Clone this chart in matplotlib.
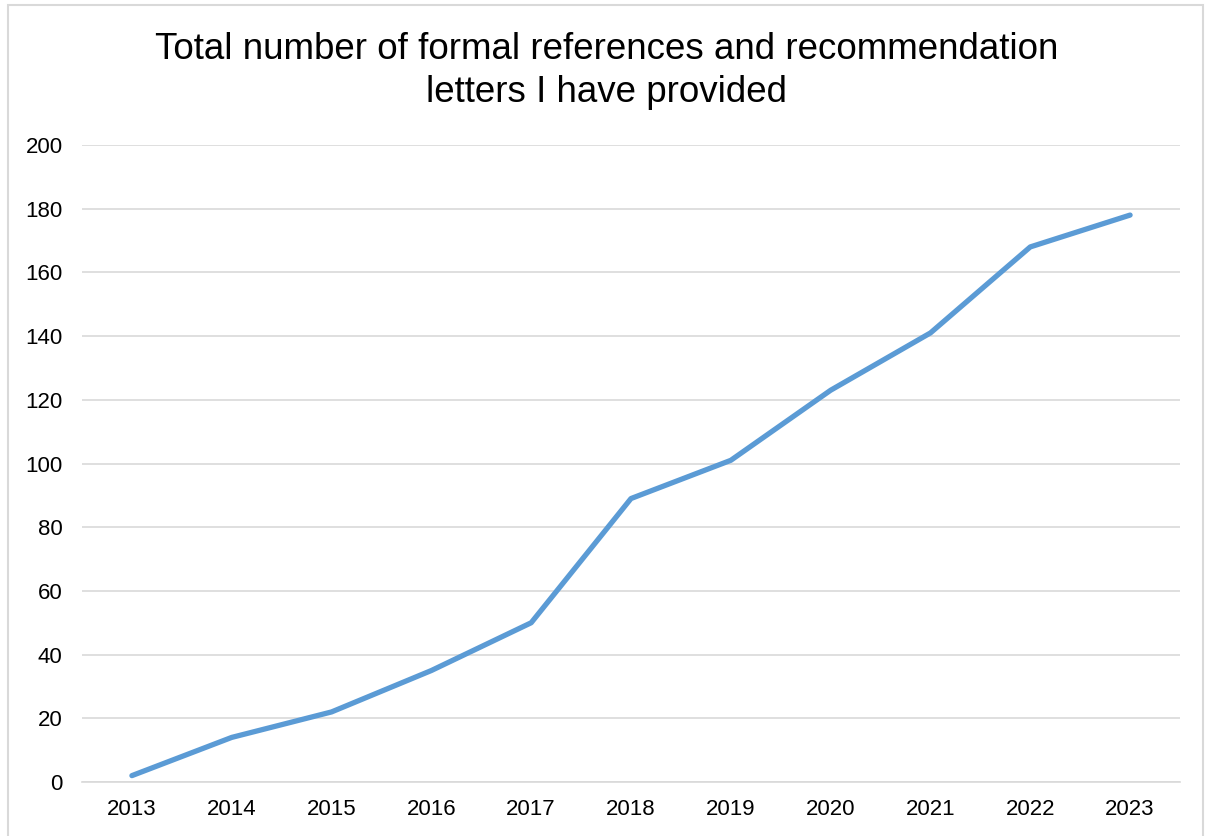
import matplotlib
matplotlib.use("Agg")
import matplotlib.pyplot as plt
from matplotlib.patches import Rectangle

years = ["2013", "2014", "2015", "2016", "2017", "2018", "2019", "2020", "2021", "2022", "2023"]
totals = [2, 14, 22, 35, 50, 89, 101, 123, 141, 168, 178]
yticks = [0, 20, 40, 60, 80, 100, 120, 140, 160, 180, 200]
title = "Total number of formal references and recommendation\nletters I have provided"

plt.rcParams['font.family'] = ['Liberation Sans', 'DejaVu Sans']

W, H = 1208, 836
fig = plt.figure(figsize=(W / 100, H / 100), dpi=100)
fig.patch.set_facecolor("white")

# outer chart border
fig.patches.append(Rectangle((8 / W, -0.05), (1203 - 8) / W, 1.05 - 5 / H,
                             transform=fig.transFigure, fill=False,
                             edgecolor="#D9D9D9", linewidth=1.5))

ax = fig.add_axes([82 / W, 1 - 782 / H, (1180 - 82) / W, (782 - 145) / H])
x = list(range(len(years)))
ax.plot(x, totals, color="#5B9BD5", linewidth=3.8, solid_capstyle="round",
        solid_joinstyle="round", zorder=3)

ax.set_xlim(-0.5, len(years) - 0.5)
ax.set_ylim(0, 200)
ax.set_yticks(yticks)
ax.set_xticks(x)
ax.set_xticklabels(years)
ax.grid(axis="y", color="#D9D9D9", linewidth=1.2)
ax.set_axisbelow(True)
for s in ["top", "right", "left"]:
    ax.spines[s].set_visible(False)
ax.spines["bottom"].set_color("#D9D9D9")
ax.spines["bottom"].set_linewidth(1.2)
ax.tick_params(axis="both", length=0, labelsize=16, colors="black")
ax.tick_params(axis="y", pad=14)
ax.tick_params(axis="x", pad=12)

fig.text(607 / W, 1 - 71 / H, title, ha="center", va="center", fontsize=26.5,
         color="black", linespacing=1.27)

fig.savefig("out.png", dpi=100)
